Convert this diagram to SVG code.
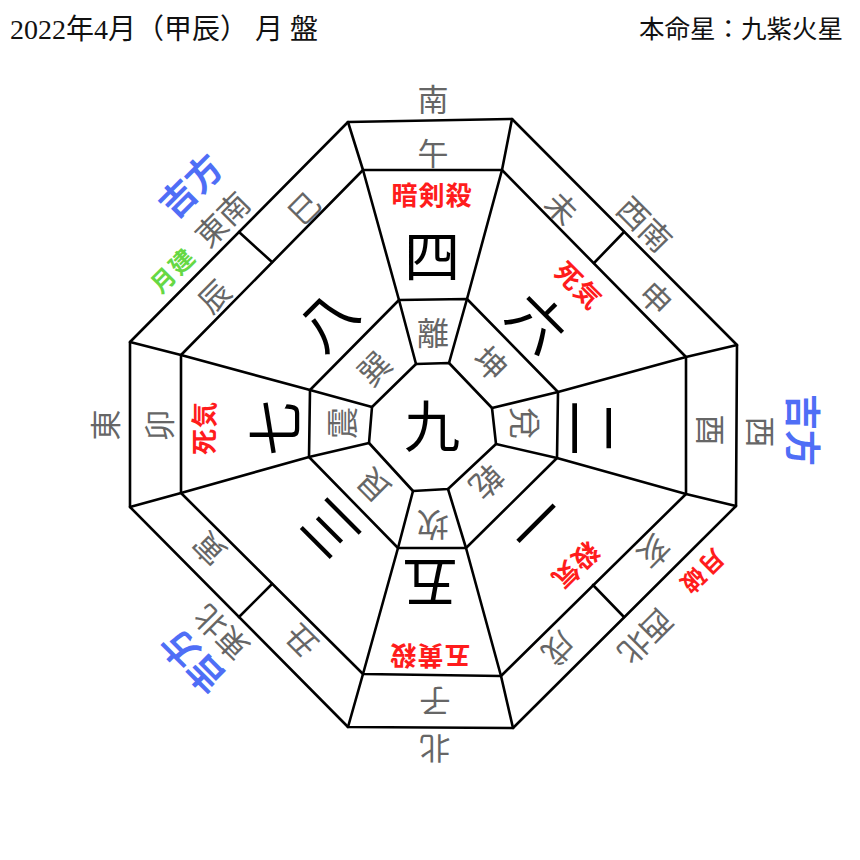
<svg xmlns="http://www.w3.org/2000/svg" width="860" height="860" viewBox="0 0 860 860">
<style>
.ln{fill:none;stroke:#000;stroke-width:2.6;stroke-linejoin:round;stroke-linecap:round}
text{font-family:"Liberation Serif","Noto Sans CJK JP",serif;text-anchor:middle;dominant-baseline:central}
.ttl{fill:#111;font-size:28px;text-anchor:start;dominant-baseline:alphabetic}
.ttr{fill:#111;font-size:25.5px;text-anchor:end;dominant-baseline:alphabetic;font-family:"Noto Sans CJK JP",sans-serif}
.g{fill:#666;font-size:31px;font-family:"Noto Sans CJK JP",sans-serif}
.k{fill:#666;font-size:32px;font-family:"Noto Sans CJK JP",sans-serif}
.n{fill:#000;font-size:56px;font-family:"Noto Sans CJK JP",sans-serif}
.r{fill:#ff1c1c;font-size:26px;font-weight:bold;letter-spacing:1px;font-family:"Noto Sans CJK JP",sans-serif}
.b{fill:#4f6ef6;font-size:36px;font-weight:bold;font-family:"Noto Sans CJK JP",sans-serif}
.gr{fill:#66d844;font-size:24px;font-weight:bold;letter-spacing:2px;font-family:"Noto Sans CJK JP",sans-serif}
.rs{fill:#ff1c1c;font-size:24px;font-weight:bold;letter-spacing:2px;font-family:"Noto Sans CJK JP",sans-serif}
</style>
<rect width="860" height="860" fill="#fff"/>
<g id="titles">
<text class="ttl" x="10" y="39">2022年4月（甲辰） 月 盤</text>
<text class="ttr" x="843" y="38">本命星：九紫火星</text>
</g>
<g id="connectors">
<polygon class="ln" points="348,122 512,119 737,345 736,506 513,728 348,727 130,507 130,342"/>
<polygon class="ln" points="363,170 502,170 686,357 686,494 501,676 363,674 181,493 181,355"/>
<polygon class="ln" points="399,300 467,299 558,392 557,458 466,548 398,548 309,457 310,390"/>
<polygon class="ln" points="416,364 449,363 492,408 496,444 448,489 413,491 369,443 372,407"/>
<polyline class="ln" points="416,364 399,300 363,170 348,122"/>
<polyline class="ln" points="449,363 467,299 502,170 512,119"/>
<polyline class="ln" points="492,408 558,392 686,357 737,345"/>
<polyline class="ln" points="496,444 557,458 686,494 736,506"/>
<polyline class="ln" points="448,489 466,548 501,676 513,728"/>
<polyline class="ln" points="413,491 398,548 363,674 348,727"/>
<polyline class="ln" points="369,443 309,457 181,493 130,507"/>
<polyline class="ln" points="372,407 310,390 181,355 130,342"/>
<line class="ln" x1="239" y1="232" x2="272" y2="262"/>
<line class="ln" x1="624" y1="232" x2="594" y2="263"/>
<line class="ln" x1="624" y1="617" x2="593" y2="585"/>
<line class="ln" x1="239" y1="617" x2="272" y2="584"/>
</g>
<g id="center">
<text class="n" x="432" y="422">九</text>
</g>
<g id="south">
<text class="g" x="433" y="97">南</text>
<text class="g" x="433" y="151">午</text>
<text class="r" x="432" y="193">暗剣殺</text>
<text class="n" x="432" y="252">四</text>
<text class="k" x="433" y="331">離</text>
</g>
<g id="southwest">
<text class="g" transform="translate(563,207) rotate(45)">未</text>
<text class="g" transform="translate(657,297) rotate(45)">申</text>
<text class="g" transform="translate(646,223) rotate(45)">西南</text>
<text class="r" transform="translate(580,284) rotate(45)">死気</text>
<text class="n" transform="translate(540,320) rotate(45)">六</text>
<text class="k" transform="translate(492,362) rotate(45)">坤</text>
</g>
<g id="west">
<text class="g" transform="translate(712,430) rotate(90)">酉</text>
<text class="g" transform="translate(762,432) rotate(90)">西</text>
<text class="b" transform="translate(805,430) rotate(90)">吉方</text>
<text class="n" transform="translate(596,428) rotate(90)">二</text>
<text class="k" transform="translate(527,423) rotate(90)">兌</text>
</g>
<g id="northwest">
<text class="g" transform="translate(655,553) rotate(135)">亥</text>
<text class="g" transform="translate(560,650) rotate(135)">戌</text>
<text class="g" transform="translate(647,638) rotate(135)">西北</text>
<text class="rs" transform="translate(703,573) rotate(135)">月破</text>
<text class="r" transform="translate(577,567) rotate(135)">殺気</text>
<text class="n" transform="translate(538,525) rotate(135)">一</text>
<text class="k" transform="translate(488,483) rotate(135)">乾</text>
</g>
<g id="north">
<text class="k" transform="translate(433,527) rotate(180)">坎</text>
<text class="n" transform="translate(430,586) rotate(180)">五</text>
<text class="r" transform="translate(430,657) rotate(180)">五黄殺</text>
<text class="g" transform="translate(435,703) rotate(180)">子</text>
<text class="g" transform="translate(435,750) rotate(180)">北</text>
</g>
<g id="northeast">
<text class="g" transform="translate(208,550) rotate(225)">寅</text>
<text class="g" transform="translate(300,642) rotate(225)">丑</text>
<text class="g" transform="translate(220,634) rotate(225)">東北</text>
<text class="b" transform="translate(191,663) rotate(225)">吉方</text>
<text class="n" transform="translate(327,532) rotate(225)">三</text>
<text class="k" transform="translate(372,487) rotate(225)">艮</text>
</g>
<g id="east">
<text class="g" transform="translate(103,425) rotate(-90)">東</text>
<text class="g" transform="translate(157,425) rotate(-90)">卯</text>
<text class="r" transform="translate(202,428) rotate(-90)">死気</text>
<text class="n" transform="translate(271,428) rotate(-90)">七</text>
<text class="k" transform="translate(340,423) rotate(-90)">震</text>
</g>
<g id="southeast">
<text class="g" transform="translate(303,207) rotate(-45)">巳</text>
<text class="g" transform="translate(213,295) rotate(-45)">辰</text>
<text class="g" transform="translate(221,218) rotate(-45)">東南</text>
<text class="b" transform="translate(189,184) rotate(-45)">吉方</text>
<text class="gr" transform="translate(172,269) rotate(-45)">月建</text>
<text class="n" transform="translate(325,318) rotate(-45)">八</text>
<text class="k" transform="translate(373,367) rotate(-45)">巽</text>
</g>
</svg>
